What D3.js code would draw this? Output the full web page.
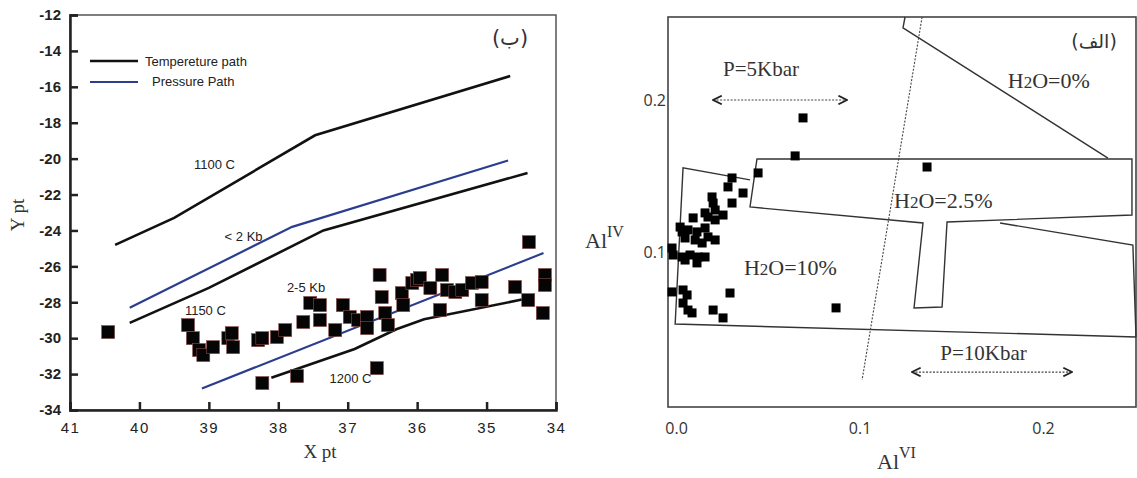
<!DOCTYPE html>
<html>
<head>
<meta charset="utf-8">
<script src="https://cdn.jsdelivr.net/npm/d3@7"></script>
<style>
  body { margin: 0; background: #fff; }
  svg { display: block; }
  .tk text { font-family: "Liberation Sans Narrow", "Liberation Sans", Arial, sans-serif; fill: #222; }
</style>
</head>
<body>
<svg id="chart" width="1137" height="478"></svg>
<script>
// ---------- left panel data (X pt / Y pt) ----------
var leftXTicks = [41, 40, 39, 38, 37, 36, 35, 34];
var leftYTicks = [-12, -14, -16, -18, -20, -22, -24, -26, -28, -30, -32, -34];

var temp1100 = [[40.35, -24.8], [39.5, -23.3], [37.47, -18.7], [34.66, -15.4]];
var tempMid = [[40.14, -29.15], [39.0, -27.2], [37.35, -24.0], [34.41, -20.8]];
var temp1200 = [[38.1, -32.2], [36.9, -30.6], [36.3, -29.5], [35.9, -28.95], [34.49, -27.85]];
var pressUpper = [[40.14, -28.3], [37.8, -23.8], [34.69, -20.1]];
var pressLower = [[39.1, -32.8], [34.18, -25.26]];

var leftPoints = [
  [40.45, -29.66], [39.30, -29.27], [39.23, -30.0], [39.14, -30.66], [39.08, -30.94],
  [38.94, -30.5], [38.72, -30.0], [38.67, -29.72], [38.65, -30.5], [38.29, -30.11],
  [38.23, -30.0], [38.02, -29.94], [37.90, -29.55], [38.23, -32.5], [37.64, -29.1],
  [37.54, -28.04], [37.40, -28.16], [37.40, -28.99], [37.18, -29.55], [37.07, -28.16],
  [36.97, -28.82], [36.85, -28.99], [36.72, -28.82], [36.72, -29.44], [36.54, -26.48],
  [36.51, -27.71], [36.46, -28.6], [36.42, -29.27], [36.22, -27.49], [36.20, -28.16],
  [36.07, -26.93], [36.0, -26.76], [37.73, -32.11], [36.58, -31.67], [35.96, -26.65],
  [35.81, -27.21], [35.64, -26.48], [35.57, -27.32], [35.45, -27.43], [35.35, -27.32],
  [35.21, -26.93], [35.07, -26.87], [35.67, -28.43], [35.07, -27.88], [34.59, -27.15],
  [34.40, -27.88], [34.39, -24.65], [34.16, -26.48], [34.16, -27.04], [34.19, -28.6]
];

var leftLabels = [
  { t: "1100 C", x: 38.92, y: -20.6 },
  { t: "< 2 Kb", x: 38.5, y: -24.6 },
  { t: "1150 C", x: 39.05, y: -28.7 },
  { t: "2-5 Kb", x: 37.6, y: -27.4 },
  { t: "1200 C", x: 36.96, y: -32.5 }
];

// ---------- right panel data (AlVI / AlIV) ----------
var rightXTicks = [0.0, 0.1, 0.2];
var rightYTicks = [0.1, 0.2];

var rightPoints = [
  [0.0447, 0.152], [0.0305, 0.1487], [0.0283, 0.1428], [0.0365, 0.1388], [0.0305, 0.1322],
  [0.0196, 0.1362], [0.0202, 0.1322], [0.0213, 0.1276], [0.0158, 0.1257], [0.0093, 0.1224],
  [0.0256, 0.1243], [0.0213, 0.1211], [0.0174, 0.123], [0.0022, 0.1164], [0.0033, 0.1132],
  [0.0065, 0.1145], [0.0114, 0.1132], [0.0158, 0.1158], [0.0174, 0.1099], [0.0213, 0.1079],
  [0.0049, 0.1092], [0.0104, 0.1079], [0.0142, 0.1059], [-0.0022, 0.1026], [-0.0016, 0.098],
  [0.0033, 0.0967], [0.0076, 0.098], [0.012, 0.0967], [0.0158, 0.0967], [0.0114, 0.0928],
  [0.0049, 0.0947], [-0.0022, 0.0737], [0.0038, 0.075], [0.006, 0.0717], [0.0294, 0.073],
  [0.0038, 0.0664], [0.0065, 0.0618], [0.0087, 0.0599], [0.0202, 0.0618], [0.0256, 0.0566],
  [0.0692, 0.1882], [0.0649, 0.1632], [0.1368, 0.1559], [0.0872, 0.0632]
];

// field boundaries
var field10 = [[0.0403, 0.1474], [0.0038, 0.1553], [-0.0005, 0.0526], [0.2507, 0.0441]];
var field10Right = [[0.1766, 0.1191], [0.249, 0.1046], [0.2507, 0.0441]];
var field25 = [[0.0441, 0.1612], [0.2485, 0.1612], [0.2485, 0.1243], [0.1477, 0.1197],
  [0.145, 0.0638], [0.1297, 0.0632], [0.1346, 0.1191], [0.0403, 0.1296]];
var field0 = [[0.1248, 0.2546], [0.1237, 0.2474], [0.2354, 0.1618]];
var dottedDivide = [[0.1341, 0.2546], [0.1014, 0.0158]];
var arrow5 = [[0.0202, 0.2], [0.0932, 0.2]];
var arrow10 = [[0.1286, 0.021], [0.2158, 0.021]];

var svg = d3.select("#chart");

svg.append("defs").selectAll("marker")
  .data(["s", "e"]).join("marker")
  .attr("id", function (d) { return "arr" + d; })
  .attr("viewBox", "0 0 10 10").attr("refX", 9).attr("refY", 5)
  .attr("markerWidth", 9).attr("markerHeight", 9)
  .attr("orient", function (d) { return d == "s" ? "auto-start-reverse" : "auto"; })
  .append("path").attr("d", "M1,1 L9,5 L1,9").attr("fill", "none")
  .attr("stroke", "#222").attr("stroke-width", 1.6);

// ================= LEFT PANEL =================
var xL = d3.scaleLinear().domain([41, 34]).range([70, 556]);
var yL = d3.scaleLinear().domain([-12, -34]).range([15, 410]);
var gL = svg.append("g");

gL.append("rect").attr("x", 70).attr("y", 15).attr("width", 486).attr("height", 395)
  .attr("fill", "none").attr("stroke", "#555").attr("stroke-width", 1.5);

var plain = function (d) { return String(d); }; // keep the hyphen minus as in the figure
var axL = gL.append("g").attr("class", "tk").attr("transform", "translate(70,0)")
  .call(d3.axisLeft(yL).tickValues(leftYTicks).tickSize(-8).tickPadding(9).tickFormat(plain));
axL.selectAll("text").attr("font-size", 15).attr("font-weight", "bold");
var axB = gL.append("g").attr("class", "tk").attr("transform", "translate(0,410)")
  .call(d3.axisBottom(xL).tickValues(leftXTicks).tickSize(-8).tickPadding(12).tickFormat(plain));
axB.selectAll("text").attr("font-size", 15).attr("letter-spacing", "1.5px")
  .attr("font-family", "'Liberation Sans', Arial, sans-serif").attr("fill", "#333");
gL.selectAll(".tk path.domain").attr("stroke", "#222").attr("stroke-width", 2.5);
gL.selectAll(".tk line").attr("stroke", "#222").attr("stroke-width", 2.5);

var lineL = d3.line().x(function (d) { return xL(d[0]); }).y(function (d) { return yL(d[1]); });
[temp1100, tempMid, temp1200].forEach(function (s) {
  gL.append("path").attr("d", lineL(s)).attr("fill", "none").attr("stroke", "#111").attr("stroke-width", 2.6);
});
[pressUpper, pressLower].forEach(function (s) {
  gL.append("path").attr("d", lineL(s)).attr("fill", "none").attr("stroke", "#2b3e8e").attr("stroke-width", 2.2);
});

gL.selectAll("rect.pt").data(leftPoints).join("rect").attr("class", "pt")
  .attr("x", function (d) { return xL(d[0]) - 6.5; })
  .attr("y", function (d) { return yL(d[1]) - 6.5; })
  .attr("width", 13).attr("height", 13)
  .attr("fill", "#050505").attr("stroke", "#8a4a4a").attr("stroke-width", 0.6);

gL.selectAll("text.lab").data(leftLabels).join("text").attr("class", "lab")
  .attr("x", function (d) { return xL(d.x); }).attr("y", function (d) { return yL(d.y); })
  .attr("text-anchor", "middle").attr("font-size", 13)
  .attr("font-family", "'Liberation Sans Narrow', 'Liberation Sans', Arial, sans-serif")
  .attr("fill", "#222").text(function (d) { return d.t; });

// legend
var leg = gL.append("g");
leg.append("line").attr("x1", 90).attr("x2", 138).attr("y1", 61).attr("y2", 61).attr("stroke", "#111").attr("stroke-width", 2.6);
leg.append("line").attr("x1", 90).attr("x2", 138).attr("y1", 82).attr("y2", 82).attr("stroke", "#2b3e8e").attr("stroke-width", 2.2);
leg.append("text").attr("x", 145).attr("y", 66).text("Tempereture path");
leg.append("text").attr("x", 152).attr("y", 86).text("Pressure Path");
leg.selectAll("text").attr("font-size", 13).attr("fill", "#222")
  .attr("font-family", "'Liberation Sans Narrow', 'Liberation Sans', Arial, sans-serif");

gL.append("text").attr("x", 510).attr("y", 45).attr("text-anchor", "middle")
  .attr("font-family", "'DejaVu Sans', sans-serif").attr("font-size", 21).attr("fill", "#333")
  .text("(ب)");

gL.append("text").attr("x", 320).attr("y", 458).attr("text-anchor", "middle")
  .attr("font-family", "'Liberation Serif', serif").attr("font-size", 19).attr("fill", "#333")
  .text("X pt");
gL.append("text").attr("transform", "translate(24,215) rotate(-90)").attr("text-anchor", "middle")
  .attr("font-family", "'Liberation Serif', serif").attr("font-size", 19).attr("fill", "#333")
  .text("Y pt");

// ================= RIGHT PANEL =================
var xR = d3.scaleLinear().domain([-0.0044, 0.2507]).range([668, 1136]);
var yR = d3.scaleLinear().domain([-0.002, 0.2546]).range([407, 17]);
var gR = svg.append("g");

gR.append("rect").attr("x", 668).attr("y", 17).attr("width", 468).attr("height", 390)
  .attr("fill", "none").attr("stroke", "#444").attr("stroke-width", 1.6);

var axRL = gR.append("g").attr("transform", "translate(668,0)")
  .call(d3.axisLeft(yR).tickValues(rightYTicks).tickSize(0).tickPadding(2).tickFormat(d3.format(".1f")));
var axRB = gR.append("g").attr("transform", "translate(0,407)")
  .call(d3.axisBottom(xR).tickValues(rightXTicks).tickSize(0).tickPadding(16).tickFormat(d3.format(".1f")));
gR.selectAll(".domain").remove();
[axRL, axRB].forEach(function (a) {
  a.selectAll("text").attr("font-size", 16).attr("fill", "#333")
    .attr("font-family", "'Open Sans', 'Liberation Sans', sans-serif");
});

var lineR = d3.line().x(function (d) { return xR(d[0]); }).y(function (d) { return yR(d[1]); });
gR.append("path").attr("d", lineR(field10)).attr("fill", "none").attr("stroke", "#333").attr("stroke-width", 1.4);
gR.append("path").attr("d", lineR(field10Right)).attr("fill", "none").attr("stroke", "#333").attr("stroke-width", 1.4);
gR.append("path").attr("d", lineR(field25) + "Z").attr("fill", "none").attr("stroke", "#333").attr("stroke-width", 1.4);
gR.append("path").attr("d", lineR(field0)).attr("fill", "none").attr("stroke", "#333").attr("stroke-width", 1.4);
gR.append("path").attr("d", lineR(dottedDivide)).attr("fill", "none").attr("stroke", "#444")
  .attr("stroke-width", 1.1).attr("stroke-dasharray", "2,1.5");
[arrow5, arrow10].forEach(function (a) {
  gR.append("path").attr("d", lineR(a)).attr("fill", "none").attr("stroke", "#444")
    .attr("stroke-width", 1.2).attr("stroke-dasharray", "2,1.5")
    .attr("marker-start", "url(#arrs)").attr("marker-end", "url(#arre)");
});

gR.selectAll("rect.pt").data(rightPoints).join("rect").attr("class", "pt")
  .attr("x", function (d) { return xR(d[0]) - 4.5; })
  .attr("y", function (d) { return yR(d[1]) - 4.5; })
  .attr("width", 9).attr("height", 9).attr("fill", "#000");

var serif = "'Liberation Serif', 'Times New Roman', serif";
function h2o(x, y, rest) {
  var t = gR.append("text").attr("x", x).attr("y", y).attr("font-family", serif)
    .attr("font-size", 22).attr("fill", "#333");
  t.append("tspan").text("H");
  t.append("tspan").attr("font-size", 17).text("2");
  t.append("tspan").text("O=" + rest);
}
h2o(xR(0.037), yR(0.085), "10%");
h2o(xR(0.1188), yR(0.129), "2.5%");
h2o(xR(0.1808), yR(0.208), "0%");

gR.append("text").attr("x", xR(0.0256)).attr("y", yR(0.216)).attr("font-family", serif)
  .attr("font-size", 21).attr("fill", "#333").text("P=5Kbar");
gR.append("text").attr("x", xR(0.144)).attr("y", yR(0.029)).attr("font-family", serif)
  .attr("font-size", 21).attr("fill", "#333").text("P=10Kbar");

gR.append("text").attr("x", 1094).attr("y", 48).attr("text-anchor", "middle")
  .attr("font-family", "'DejaVu Sans', sans-serif").attr("font-size", 19).attr("fill", "#333")
  .text("(الف)");

function alTitle(x, y, sup) {
  var t = gR.append("text").attr("x", x).attr("y", y).attr("font-family", serif)
    .attr("font-size", 22).attr("fill", "#333");
  t.append("tspan").text("Al");
  t.append("tspan").attr("font-size", 16).attr("dy", -11).text(sup);
}
alTitle(585, 248, "IV");
alTitle(877, 469, "VI");
</script>
</body>
</html>
